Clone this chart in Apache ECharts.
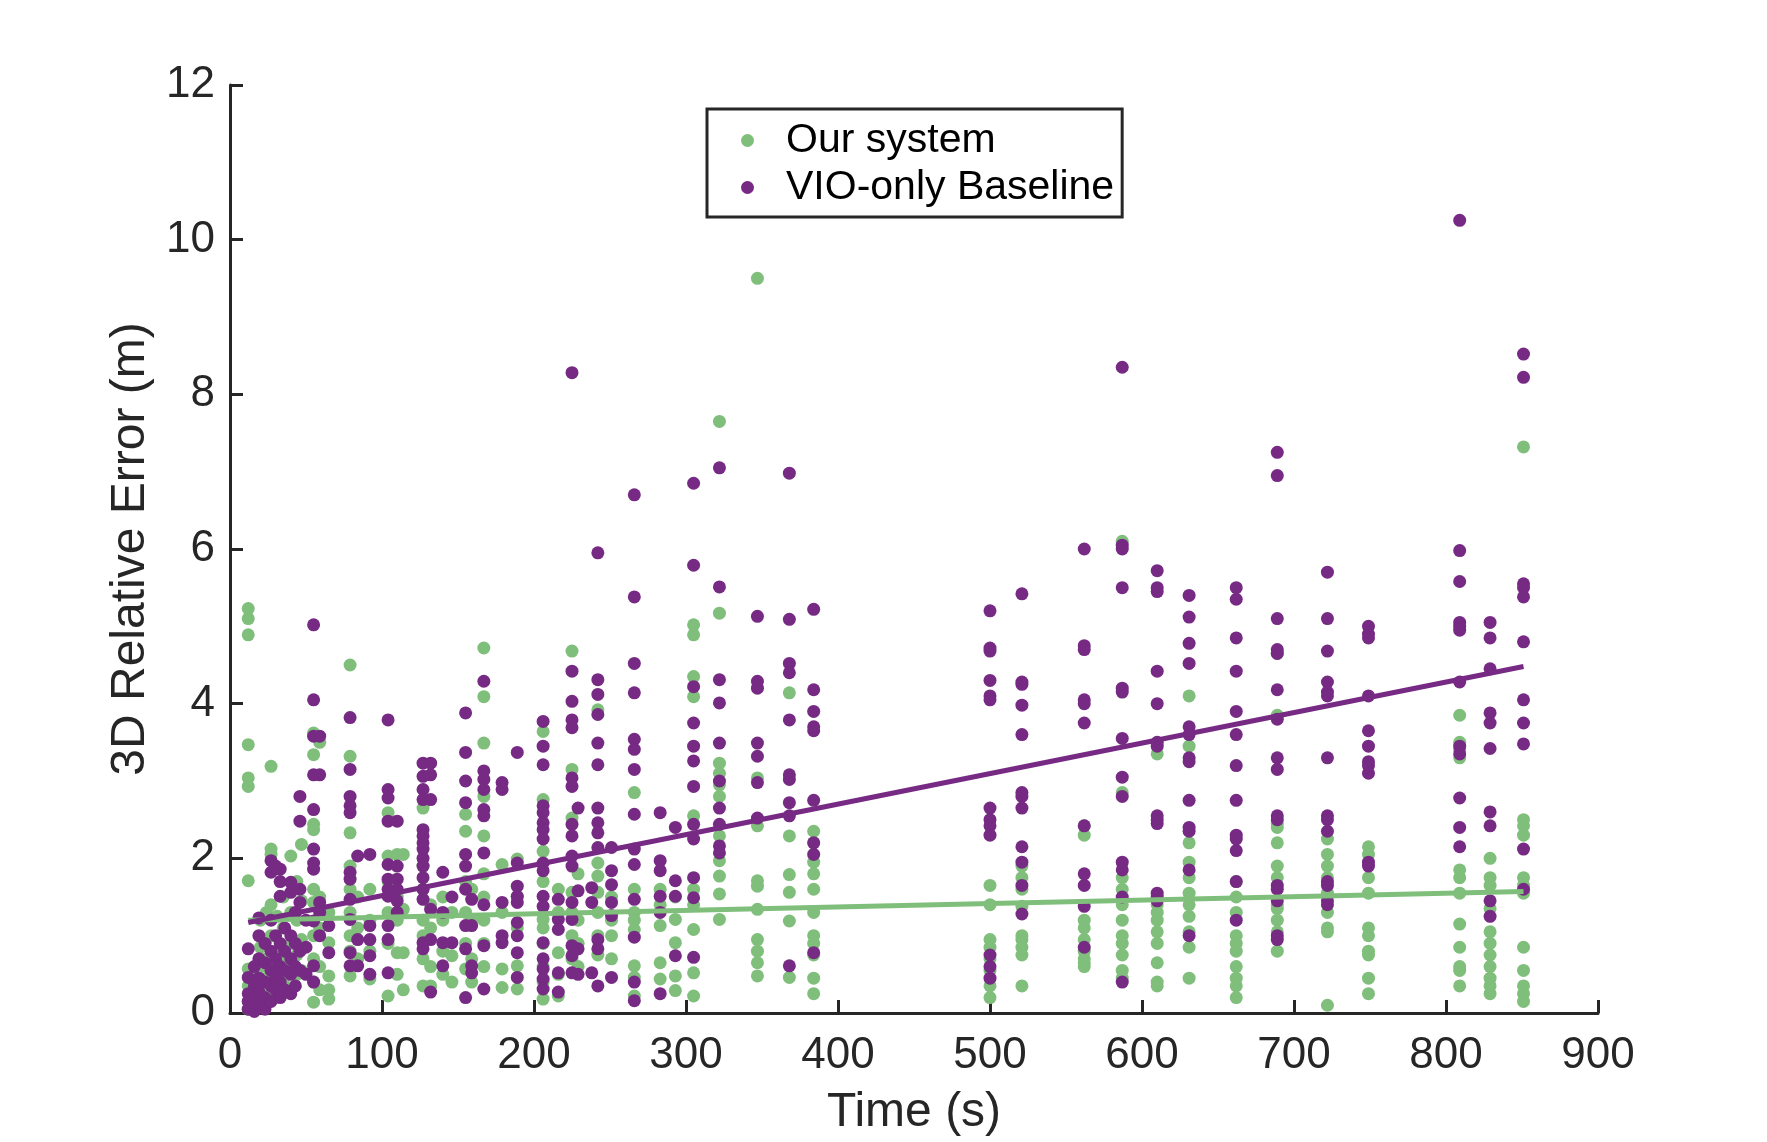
<!DOCTYPE html>
<html>
<head>
<meta charset="utf-8">
<script src="https://cdn.jsdelivr.net/npm/echarts@6/dist/echarts.min.js"></script>
<style>
  html, body { margin: 0; padding: 0; background: #fff; }
  #chart { width: 1767px; height: 1142px; }
</style>
</head>
<body>
<div id="chart"></div>
<script>
// sample times (s) and errors (m), one list per time column
const oursTimes = [12, 16, 20, 24, 27, 31, 35, 40, 44, 47, 55, 59, 65, 79, 84, 92, 104, 110, 114, 127, 132, 140, 146, 155, 159, 167, 179, 189, 206, 216, 225, 229, 242, 251, 266, 283, 293, 305, 322, 347, 368, 384,
  500, 521, 562, 587, 610, 631, 662, 689, 722, 749, 809, 829, 851];
const oursValues = [
  [5.23, 5.1, 4.89, 3.47, 3.04, 2.93, 1.71, 0.57, 0.35, 0.15, 0.05],
  [0.5, 0.3, 0.1],
  [1.2, 0.85, 0.6, 0.4, 0.2],
  [1.3, 0.95, 0.7, 0.45, 0.25],
  [3.19, 2.12, 2.05, 1.4, 1.0, 0.55, 0.3],
  [1.25, 0.8, 0.5, 0.35],
  [1.5, 1.1, 0.65, 0.4],
  [2.03, 1.3, 0.9, 0.6, 0.3],
  [1.7, 1.2, 0.75, 0.5],
  [2.18, 1.45, 0.95, 0.55],
  [3.62, 3.34, 2.44, 2.37, 1.6, 1.43, 1.0, 0.7, 0.4, 0.14],
  [3.5, 1.5, 1.1, 0.6, 0.3],
  [1.3, 0.91, 0.48, 0.3, 0.18],
  [4.5, 3.32, 2.33, 1.9, 1.6, 1.3, 1.0, 0.8, 0.48],
  [1.5, 1.1, 0.7],
  [1.6, 1.2, 0.8, 0.44],
  [2.59, 2.03, 1.7, 1.3, 0.9, 0.22],
  [2.05, 1.5, 1.2, 0.78, 0.5],
  [2.05, 1.34, 0.78, 0.3],
  [2.65, 1.9, 1.6, 1.2, 1.0, 0.7, 0.35],
  [1.4, 1.1, 0.6, 0.35],
  [1.5, 1.2, 0.8, 0.5],
  [1.3, 0.74, 0.4],
  [2.57, 2.35, 1.7, 1.3, 0.9, 0.57],
  [1.6, 1.2, 0.7, 0.4],
  [4.72, 4.09, 3.49, 2.8, 2.29, 1.8, 1.5, 1.2, 0.9, 0.6],
  [1.92, 1.3, 0.57, 0.33],
  [1.99, 1.5, 1.1, 0.61, 0.31],
  [3.64, 2.76, 2.09, 1.7, 1.21, 1.1, 0.9, 0.6, 0.4, 0.18],
  [1.6, 1.3, 0.78, 0.5, 0.22],
  [4.68, 3.15, 2.52, 1.56, 1.3, 1.0, 0.7],
  [1.8, 1.2, 0.9, 0.6],
  [3.92, 1.94, 1.77, 1.56, 1.3, 1.0, 0.75],
  [1.5, 1.2, 1.0, 0.7],
  [2.85, 1.6, 1.3, 1.2, 1.08, 0.61, 0.46, 0.22],
  [1.6, 1.4, 1.13, 0.65, 0.44],
  [1.5, 1.21, 0.91, 0.48, 0.29],
  [5.02, 4.89, 4.35, 4.09, 2.55, 1.6, 1.4, 1.08, 0.52, 0.22],
  [7.65, 5.17, 3.23, 3.1, 2.95, 2.8, 2.29, 1.97, 1.77, 1.54, 1.21],
  [9.5, 3.04, 2.42, 1.71, 1.64, 1.34, 0.95, 0.8, 0.65, 0.48],
  [4.14, 2.29, 1.79, 1.56, 1.19, 0.46],
  [2.35, 2.2, 1.95, 1.8, 1.6, 1.3, 1.0, 0.9, 0.75, 0.45, 0.25],
  [1.65, 1.4, 0.95, 0.85, 0.7, 0.55, 0.35, 0.2],
  [1.9, 1.75, 1.6, 1.38, 1.0, 0.95, 0.85, 0.75, 0.35],
  [2.42, 2.3, 1.2, 1.1, 0.95, 0.8, 0.7, 0.65, 0.6],
  [6.1, 2.85, 1.75, 1.6, 1.4, 1.2, 1.0, 0.9, 0.75, 0.55, 0.45],
  [3.35, 1.4, 1.3, 1.2, 1.05, 0.9, 0.65, 0.4, 0.35],
  [4.1, 3.45, 2.2, 1.95, 1.75, 1.55, 1.4, 1.25, 1.05, 0.85, 0.45],
  [1.7, 1.5, 1.3, 1.0, 0.9, 0.8, 0.6, 0.45, 0.35, 0.2],
  [4.65, 3.85, 2.45, 2.4, 2.2, 1.9, 1.75, 1.4, 1.35, 1.2, 1.05, 0.8],
  [2.25, 2.05, 1.9, 1.75, 1.55, 1.3, 1.1, 1.05, 0.1],
  [2.15, 2.05, 1.75, 1.55, 1.1, 1.0, 0.8, 0.75, 0.45, 0.25],
  [3.85, 3.5, 3.4, 3.3, 1.85, 1.75, 1.55, 1.15, 0.85, 0.6, 0.55, 0.35],
  [2.0, 1.75, 1.65, 1.35, 1.05, 0.9, 0.75, 0.6, 0.45, 0.35, 0.25],
  [7.32, 2.5, 2.42, 2.3, 1.75, 1.65, 1.55, 0.85, 0.55, 0.35, 0.25, 0.15]
];

const vioTimes = [12, 16, 19, 23, 27, 30, 33, 36, 40, 43, 46, 50, 55, 59, 65, 79, 84, 92, 104, 110, 127, 132, 140, 146, 155, 159, 167, 179, 189, 206, 216, 225, 229, 238, 242, 251, 266, 283, 293, 305, 322, 347, 368, 384,
  500, 521, 562, 587, 610, 631, 662, 689, 722, 749, 809, 829, 851];
const vioValues = [
  [0.83, 0.46, 0.25, 0.15, 0.05],
  [0.6, 0.35, 0.2, 0.1, 0.02],
  [1.23, 1.0, 0.7, 0.45, 0.27, 0.1],
  [0.9, 0.65, 0.4, 0.2, 0.05],
  [1.97, 1.82, 1.2, 0.8, 0.55, 0.35, 0.15],
  [1.9, 1.0, 0.7, 0.45, 0.3],
  [1.86, 1.7, 1.51, 0.9, 0.6, 0.4, 0.2],
  [1.1, 0.8, 0.55, 0.3],
  [1.69, 1.56, 1.0, 0.7, 0.5, 0.25],
  [1.3, 0.9, 0.6, 0.35],
  [2.8, 2.48, 1.6, 1.43, 0.8, 0.55],
  [1.2, 0.85, 0.5],
  [5.02, 4.05, 3.58, 3.08, 2.63, 2.12, 1.94, 1.86, 1.19, 0.61, 0.4],
  [3.58, 3.08, 1.43, 1.3, 1.0],
  [1.13, 0.78],
  [3.82, 3.15, 2.8, 2.68, 2.59, 1.82, 1.73, 1.47, 1.21, 0.78, 0.61],
  [2.03, 0.95, 0.61],
  [2.05, 1.13, 0.95, 0.74, 0.5],
  [3.79, 2.89, 2.78, 2.48, 1.92, 1.73, 1.6, 1.51, 1.13, 0.95, 0.52],
  [2.48, 1.9, 1.73, 1.6, 1.45, 1.3],
  [3.23, 3.06, 2.89, 2.76, 2.37, 2.29, 2.2, 2.12, 2.0, 1.9, 1.75, 1.6, 1.47, 0.91, 0.83],
  [3.23, 3.08, 2.76, 1.34, 0.95, 0.27],
  [1.82, 1.3, 0.91, 0.61],
  [1.5, 0.91],
  [3.88, 3.37, 3.0, 2.72, 2.05, 1.9, 1.6, 1.13, 0.83, 0.2],
  [1.47, 1.13, 0.61, 0.52],
  [4.29, 3.13, 3.02, 2.89, 2.63, 2.55, 2.07, 1.4, 0.87, 0.31],
  [2.98, 2.89, 1.43, 1.0, 0.91],
  [3.37, 1.94, 1.64, 1.51, 1.43, 1.17, 1.0, 0.78, 0.46],
  [3.77, 3.45, 3.21, 2.68, 2.59, 2.46, 2.37, 2.25, 1.94, 1.84, 1.51, 1.38, 0.91, 0.7, 0.57, 0.44, 0.31],
  [1.47, 1.21, 1.08, 0.52, 0.27],
  [8.28, 4.42, 4.03, 3.79, 3.69, 3.04, 2.93, 2.44, 2.29, 2.03, 1.9, 1.43, 1.21, 0.87, 0.74, 0.52],
  [2.65, 1.58, 0.83, 0.5],
  [1.62, 1.43, 0.52],
  [5.95, 4.31, 4.12, 3.86, 3.49, 3.21, 2.65, 2.46, 2.33, 2.14, 0.95, 0.83, 0.35],
  [2.14, 1.84, 1.66, 1.43, 1.26, 0.46],
  [6.7, 5.38, 4.52, 4.14, 3.54, 3.41, 3.15, 2.57, 2.12, 1.92, 1.47, 0.98, 0.4, 0.16],
  [2.59, 1.97, 1.84, 1.51, 1.3, 0.25],
  [2.4, 1.71, 1.51, 0.74],
  [6.85, 5.79, 4.22, 3.75, 3.45, 3.26, 2.93, 2.44, 2.25, 1.75, 1.49, 0.72],
  [7.05, 5.51, 4.31, 4.01, 3.49, 3.0, 2.65, 2.44, 2.16, 2.07],
  [5.13, 4.29, 4.2, 3.49, 3.32, 2.98, 2.52],
  [6.98, 5.09, 4.52, 4.4, 3.79, 3.08, 3.02, 2.72, 2.55, 0.61],
  [5.22, 4.18, 3.9, 3.7, 3.65, 2.75, 2.2, 2.05, 0.78],
  [5.2, 4.72, 4.68, 4.3, 4.1, 4.05, 2.65, 2.5, 2.42, 2.3, 0.75, 0.6, 0.45],
  [5.42, 4.28, 4.25, 3.98, 3.6, 2.85, 2.8, 2.65, 2.15, 1.95, 1.65, 1.28],
  [6.0, 4.75, 4.7, 4.05, 4.0, 3.75, 2.42, 1.8, 1.65, 1.38, 0.85],
  [8.35, 6.05, 6.0, 5.5, 4.2, 4.15, 3.55, 3.05, 2.8, 1.95, 1.85, 1.5, 0.4],
  [5.72, 5.5, 5.45, 4.42, 4.0, 3.5, 3.45, 2.55, 2.5, 2.45, 1.55, 1.5, 1.45],
  [5.4, 5.12, 4.78, 4.52, 3.7, 3.6, 3.3, 3.25, 2.75, 2.4, 2.35, 1.85, 1.0],
  [5.5, 5.35, 4.85, 4.42, 3.9, 3.6, 3.2, 2.75, 2.3, 2.25, 2.1, 1.7, 1.2],
  [7.25, 6.95, 5.1, 4.7, 4.65, 4.18, 3.8, 3.3, 3.15, 2.55, 2.5, 1.65, 1.6, 1.45, 1.0, 0.95],
  [5.7, 5.1, 4.68, 4.28, 4.15, 4.1, 3.3, 2.55, 2.5, 2.35, 1.7, 1.65, 1.45, 1.4],
  [5.0, 4.9, 4.85, 4.1, 3.65, 3.45, 3.25, 3.2, 3.1, 1.95, 1.9],
  [10.25, 5.98, 5.58, 5.05, 5.0, 4.95, 4.28, 3.45, 3.35, 2.78, 2.4, 2.15],
  [5.05, 4.85, 4.45, 3.88, 3.75, 3.42, 2.6, 2.42, 1.45, 1.25],
  [8.52, 8.22, 5.55, 5.5, 5.38, 4.8, 4.05, 3.75, 3.48, 2.12, 1.6]
];

// linear fit end points
const fitTimes = [12, 851];
const oursFit = [1.2, 1.57];
const vioFit = [1.17, 4.48];

const GREEN = '#7fbf7b';
const PURPLE = '#762a83';
const INK = '#262626';
const FONT = '"Liberation Sans", Arial, Helvetica, sans-serif';

function toPoints(ts, vals) {
  const out = [];
  ts.forEach((t, i) => vals[i].forEach(v => out.push([t, v])));
  return out;
}

const chart = echarts.init(document.getElementById('chart'), null, { renderer: 'canvas' });

const axisCommon = {
  axisLine: { show: true, lineStyle: { color: INK, width: 3 } },
  axisTick: { show: true, inside: true, length: 13, lineStyle: { color: INK, width: 3 } },
  splitLine: { show: false },
  axisLabel: { color: INK, fontSize: 44, fontFamily: FONT },
  nameTextStyle: { color: INK, fontSize: 48, fontFamily: FONT },
  nameLocation: 'middle'
};

const option = {
  backgroundColor: '#fff',
  animation: false,
  grid: { left: 230, right: 169, top: 85, bottom: 129, containLabel: false },
  legend: {
    data: ['Our system', 'VIO-only Baseline'],
    orient: 'vertical',
    left: 707,
    top: 109,
    icon: 'circle',
    itemWidth: 13,
    itemHeight: 13,
    itemGap: 6,
    padding: [11, 8, 9, 34],
    borderColor: INK,
    borderWidth: 3,
    backgroundColor: '#fff',
    textStyle: { color: '#000', fontSize: 41, fontFamily: FONT, lineHeight: 39, padding: [0, 0, 0, 27] }
  },
  xAxis: Object.assign({}, axisCommon, {
    type: 'value',
    min: 0,
    max: 900,
    interval: 100,
    name: 'Time (s)',
    nameGap: 76,
    axisLabel: Object.assign({}, axisCommon.axisLabel, { margin: 21 })
  }),
  yAxis: Object.assign({}, axisCommon, {
    type: 'value',
    min: 0,
    max: 12,
    interval: 2,
    name: '3D Relative Error (m)',
    nameGap: 69,
    nameRotate: 90,
    axisLabel: Object.assign({}, axisCommon.axisLabel, { margin: 15 })
  }),
  series: [
    {
      name: 'Our system',
      type: 'scatter',
      symbolSize: 13,
      itemStyle: { color: GREEN, opacity: 1 },
      data: toPoints(oursTimes, oursValues),
      z: 2
    },
    {
      name: 'VIO-only Baseline',
      type: 'scatter',
      symbolSize: 13,
      itemStyle: { color: PURPLE, opacity: 1 },
      data: toPoints(vioTimes, vioValues),
      z: 3
    },
    {
      name: 'Our system fit',
      type: 'line',
      showSymbol: false,
      lineStyle: { color: GREEN, width: 5 },
      data: fitTimes.map((t, i) => [t, oursFit[i]]),
      z: 4
    },
    {
      name: 'VIO-only fit',
      type: 'line',
      showSymbol: false,
      lineStyle: { color: PURPLE, width: 5 },
      data: fitTimes.map((t, i) => [t, vioFit[i]]),
      z: 5
    }
  ]
};

chart.setOption(option);
</script>
</body>
</html>
